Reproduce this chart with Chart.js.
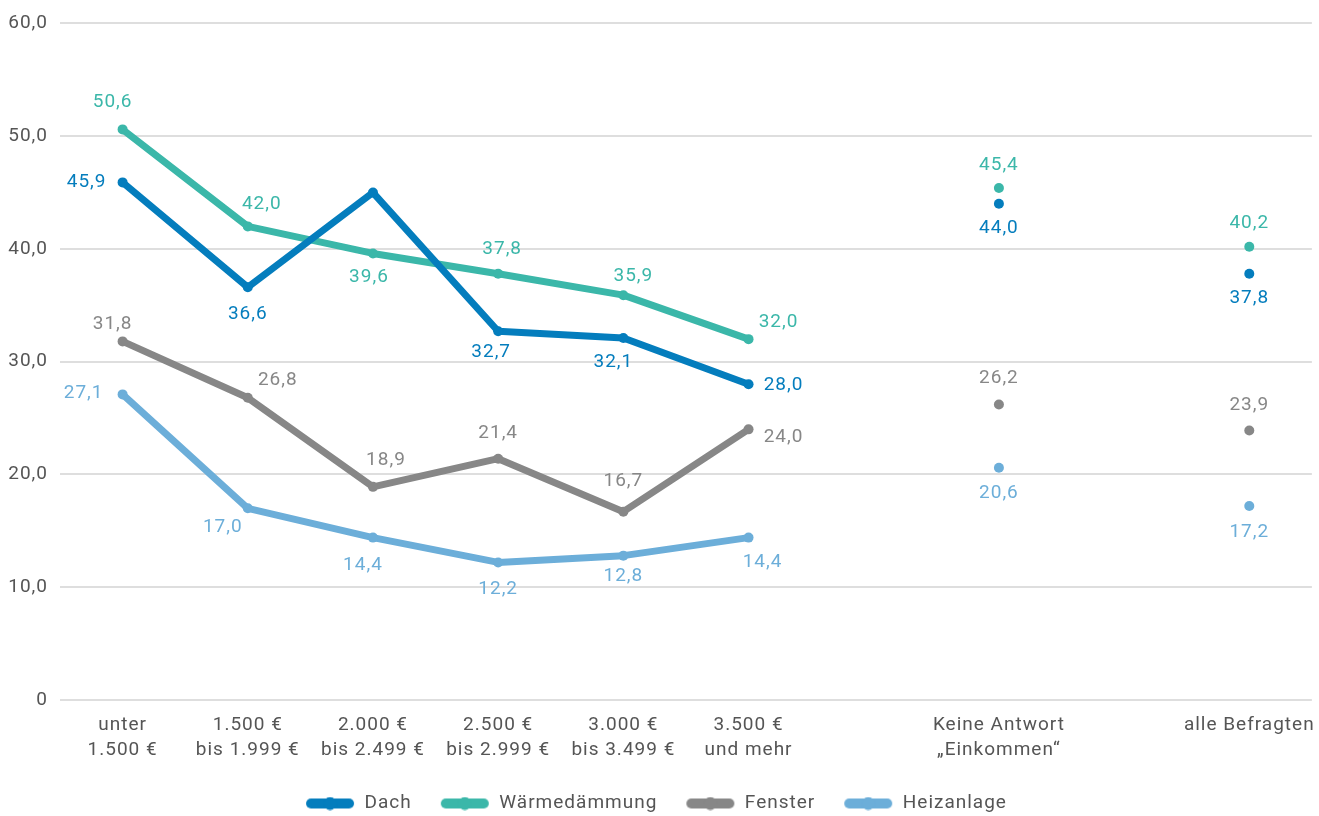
<!DOCTYPE html>
<html>
<head>
<meta charset="utf-8">
<script src="https://cdn.jsdelivr.net/npm/chart.js@4/dist/chart.umd.min.js"></script>
<style>
html,body{margin:0;padding:0;background:#fff;}
#wrap{width:1319px;height:816px;}
</style>
</head>
<body>
<div id="wrap"><canvas id="c" width="1319" height="816"></canvas></div>
<script>
const categories = [
  ['unter','1.500 €'],
  ['1.500 €','bis 1.999 €'],
  ['2.000 €','bis 2.499 €'],
  ['2.500 €','bis 2.999 €'],
  ['3.000 €','bis 3.499 €'],
  ['3.500 €','und mehr'],
  '',
  ['Keine Antwort','„Einkommen“'],
  '',
  'alle Befragten'
];
const dach           = [45.9, 36.6, 45.0, 32.7, 32.1, 28.0, null, 44.0, null, 37.8];
const waermedaemmung = [50.6, 42.0, 39.6, 37.8, 35.9, 32.0, null, 45.4, null, 40.2];
const fenster        = [31.8, 26.8, 18.9, 21.4, 16.7, 24.0, null, 26.2, null, 23.9];
const heizanlage     = [27.1, 17.0, 14.4, 12.2, 12.8, 14.4, null, 20.6, null, 17.2];
const yTicks = [0, 10, 20, 30, 40, 50, 60];

// which value labels are shown (the 45,0 of Dach has no label in the source)
const showLabel = {
  Dach: [true, true, false, true, true, true, false, true, false, true]
};

// label placement (layout only): offset of label centre from point, px
const labelOffsets = {
  'Dach':          [[-36,0],[0,27],null,[-7,21],[-10,24],[35,1],null,[0,24],null,[0,25]],
  'Wärmedämmung':  [[-10,-27],[14,-22],[-4,24],[4,-24],[10,-19],[30,-17],null,[0,-23],null,[0,-23]],
  'Fenster':       [[-10,-17],[30,-18],[13,-27],[0,-25],[0,-30],[35,8],null,[0,-26],null,[0,-25]],
  'Heizanlage':    [[-39,-1],[-25,19],[-10,28],[0,27],[0,21],[14,25],null,[0,26],null,[0,26]]
};

const colors = {
  'Dach': '#047dbd',
  'Wärmedämmung': '#3bb7a9',
  'Fenster': '#878787',
  'Heizanlage': '#6caed9'
};

const FONT = 'Roboto, "DejaVu Sans", sans-serif';
const TEXT = '#555555';
const FS = 19;

function legendSymbol(color){
  const cv = document.createElement('canvas');
  cv.width = 50; cv.height = 14;
  const g = cv.getContext('2d');
  g.strokeStyle = color; g.fillStyle = color;
  g.lineWidth = 10; g.lineCap = 'round';
  g.beginPath(); g.moveTo(6,7); g.lineTo(44,7); g.stroke();
  g.beginPath(); g.arc(25,7,6.5,0,Math.PI*2); g.fill();
  return cv;
}

function mkDs(label, data){
  return {
    label, data,
    borderColor: colors[label],
    backgroundColor: colors[label],
    borderWidth: 7,
    pointRadius: 5,
    pointHoverRadius: 5,
    pointBackgroundColor: colors[label],
    pointBorderWidth: 0,
    spanGaps: false,
    tension: 0,
    borderCapStyle: 'round',
    borderJoinStyle: 'round'
  };
}

const spacing = {
  id: 'spacing',
  beforeLayout(chart){ chart.ctx.letterSpacing = '1px'; },
  beforeDraw(chart){ chart.ctx.letterSpacing = '1px'; }
};

const valueLabels = {
  id: 'valueLabels',
  afterDatasetsDraw(chart){
    const ctx = chart.ctx;
    ctx.save();
    ctx.font = FS + 'px ' + FONT;
    ctx.textAlign = 'center';
    ctx.textBaseline = 'middle';
    chart.data.datasets.forEach((ds, di) => {
      const meta = chart.getDatasetMeta(di);
      const offs = labelOffsets[ds.label];
      const show = showLabel[ds.label];
      ds.data.forEach((v, i) => {
        if (v === null || !offs[i]) return;
        if (show && !show[i]) return;
        const p = meta.data[i];
        ctx.fillStyle = colors[ds.label];
        ctx.fillText(v.toFixed(1).replace('.', ','), p.x + offs[i][0], p.y + offs[i][1]);
      });
    });
    ctx.restore();
  }
};

new Chart(document.getElementById('c'), {
  type: 'line',
  data: {
    labels: categories,
    datasets: [
      mkDs('Dach', dach),
      mkDs('Wärmedämmung', waermedaemmung),
      mkDs('Fenster', fenster),
      mkDs('Heizanlage', heizanlage)
    ]
  },
  options: {
    responsive: false,
    animation: false,
    layout: { padding: { left: 0, right: 7, top: 12, bottom: -7 } },
    plugins: {
      tooltip: { enabled: false },
      legend: {
        position: 'bottom',
        labels: {
          usePointStyle: true,
          pointStyleWidth: 50,
          boxHeight: 14,
          padding: 28,
          color: TEXT,
          font: { family: FONT, size: FS },
          generateLabels(chart){
            return chart.data.datasets.map((ds, i) => ({
              text: ds.label,
              fillStyle: colors[ds.label],
              strokeStyle: colors[ds.label],
              lineWidth: 0,
              pointStyle: legendSymbol(colors[ds.label]),
              fontColor: TEXT,
              hidden: false,
              datasetIndex: i
            }));
          }
        }
      }
    },
    scales: {
      x: {
        offset: true,
        grid: { display: false },
        border: { display: false },
        afterFit(scale){ scale.height = 66; },
        ticks: {
          autoSkip: false,
          maxRotation: 0,
          padding: 4,
          color: TEXT,
          font: { family: FONT, size: FS, lineHeight: 1.35 }
        }
      },
      y: {
        min: 0,
        max: 60,
        afterBuildTicks(scale){ scale.ticks = yTicks.map(v => ({ value: v })); },
        afterFit(scale){ scale.width = 60; },
        grid: { color: '#dedede', lineWidth: 2, drawTicks: false },
        border: { display: false },
        ticks: {
          padding: 12,
          color: TEXT,
          font: { family: FONT, size: FS },
          callback: v => v === 0 ? '0' : v.toFixed(1).replace('.', ',')
        }
      }
    }
  },
  plugins: [spacing, valueLabels]
});
</script>
</body>
</html>
